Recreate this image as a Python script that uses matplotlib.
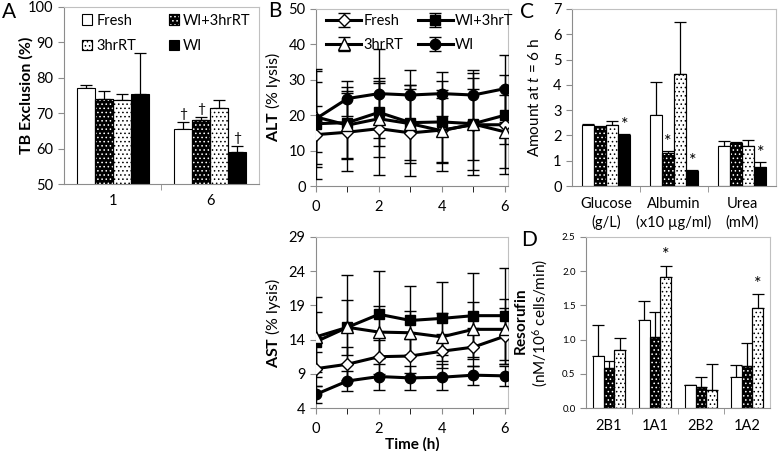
import numpy as np
import matplotlib
matplotlib.use("Agg")
import matplotlib.pyplot as plt
from matplotlib.legend_handler import HandlerTuple

plt.rcParams['font.family'] = ['Lato', 'DejaVu Sans']
plt.rcParams['mathtext.fontset'] = 'custom'
plt.rcParams['mathtext.rm'] = 'Lato'
plt.rcParams['mathtext.bf'] = 'Lato:bold'
plt.rcParams['mathtext.it'] = 'Lato:italic'
plt.rcParams['hatch.linewidth'] = 0.6

# ---- Panel A: TB exclusion
a_groups = ['1', '6']
a_fresh = [77.0, 65.5]
a_fresh_err = [1.0, 2.0]
a_wi3 = [74.0, 68.2]
a_wi3_err = [2.4, 0.7]
a_rt3 = [73.6, 71.4]
a_rt3_err = [1.8, 2.3]
a_wi = [75.4, 58.9]
a_wi_err = [11.7, 1.7]

# ---- Panel B: ALT / AST over time
hours = [0, 1, 2, 3, 4, 5, 6]
alt_fresh = [14.5, 15.2, 16.2, 15.0, 15.8, 17.3, 17.3]
alt_fresh_err = [8.2, 11.0, 13.0, 12.3, 9.0, 10.0, 14.0]
alt_wi3 = [17.6, 17.9, 20.8, 17.9, 18.1, 17.6, 20.0]
alt_wi3_err = [15.5, 10.0, 9.6, 10.5, 11.5, 13.0, 8.0]
alt_rt3 = [19.5, 17.2, 19.0, 17.6, 15.6, 17.5, 15.3]
alt_rt3_err = [10.0, 9.5, 10.8, 11.0, 11.4, 14.5, 10.3]
alt_wi = [19.0, 24.7, 26.1, 25.7, 26.1, 25.7, 27.5]
alt_wi_err = [13.5, 5.0, 12.5, 7.2, 6.2, 7.2, 9.5]

ast_fresh = [9.75, 10.4, 11.5, 11.6, 12.3, 12.9, 14.5]
ast_fresh_err = [2.5, 2.5, 2.5, 2.5, 2.5, 2.8, 4.1]
ast_wi3 = [13.7, 15.8, 17.7, 16.8, 17.1, 17.5, 17.5]
ast_wi3_err = [4.4, 7.7, 6.4, 5.1, 5.3, 6.3, 7.0]
ast_rt3 = [14.4, 15.8, 15.1, 15.0, 14.4, 15.5, 15.5]
ast_rt3_err = [5.9, 4.0, 3.8, 3.2, 3.5, 4.0, 4.5]
ast_wi = [6.0, 7.95, 8.6, 8.4, 8.5, 8.8, 8.7]
ast_wi_err = [1.2, 1.5, 1.9, 1.8, 1.9, 1.4, 1.5]

# ---- Panel C: amounts at t = 6 h
c_groups = ['Glucose\n(g/L)', 'Albumin\n(x10 \u00b5g/ml)', 'Urea\n(mM)']
c_fresh = [2.43, 2.80, 1.58]
c_fresh_err = [0.03, 1.30, 0.20]
c_wi3 = [2.35, 1.32, 1.70]
c_wi3_err = [0.03, 0.05, 0.05]
c_rt3 = [2.43, 4.43, 1.58]
c_rt3_err = [0.13, 2.05, 0.23]
c_wi = [2.03, 0.60, 0.77]
c_wi_err = [0.03, 0.03, 0.17]

# ---- Panel D: resorufin
d_groups = ['2B1', '1A1', '2B2', '1A2']
d_fresh = [0.76, 1.29, 0.34, 0.46]
d_fresh_err = [0.46, 0.27, 0.0, 0.17]
d_wi3 = [0.58, 1.04, 0.31, 0.61]
d_wi3_err = [0.10, 0.36, 0.15, 0.34]
d_rt3 = [0.85, 1.92, 0.26, 1.46]
d_rt3_err = [0.18, 0.16, 0.38, 0.20]

W, H = 778, 451
fig = plt.figure(figsize=(W / 100, H / 100), dpi=100)


def add_ax(l, t, r, b):
    return fig.add_axes([l / W, 1 - b / H, (r - l) / W, (b - t) / H])


def frame(ax, size=10.5):
    for s in ax.spines.values():
        s.set_color('#c0c0c0')
        s.set_linewidth(0.8)
    ax.spines['left'].set_color('#8c8c8c')
    ax.spines['bottom'].set_color('#8c8c8c')
    ax.tick_params(colors='#8c8c8c', labelcolor='black', labelsize=size,
                   length=4, width=0.8)


# bar styles: face, dot colour
styles = {'Fresh': ('white', None), 'WI+3hrRT': ('black', 'white'),
          '3hrRT': ('white', 'black'), 'WI': ('black', None)}


def dbar(ax, x, h, w, name, err=None):
    face, dots = styles[name]
    ax.bar(x, h, w, color=face, edgecolor='black', lw=0.8, zorder=2)
    if dots:
        ax.bar(x, h, w, color='none', edgecolor=dots, hatch='....', lw=0, zorder=3)
        ax.bar(x, h, w, color='none', edgecolor='black', lw=0.8, zorder=4)
    if err is not None:
        ax.errorbar(x, h, yerr=[np.zeros(len(err)), err], fmt='none',
                    ecolor='black', elinewidth=0.9, capsize=4, capthick=0.9, zorder=1)


def legend_handle(name):
    face, dots = styles[name]
    base = plt.Rectangle((0, 0), 1, 1, facecolor=face, edgecolor='black', lw=0.8)
    if dots:
        over = plt.Rectangle((0, 0), 1, 1, facecolor='none', edgecolor=dots,
                             hatch='....', lw=0)
        edge = plt.Rectangle((0, 0), 1, 1, facecolor='none', edgecolor='black', lw=0.8)
        return (base, over, edge)
    return base


def cat_axis(ax, labels):
    n = len(labels)
    ax.set_xlim(-0.5, n - 0.5)
    ax.set_xticks(range(n))
    ax.set_xticklabels(labels)
    ax.set_xticks(np.arange(0.5, n - 1, 1), minor=True)
    ax.tick_params(axis='x', which='major', length=0, pad=7)
    ax.tick_params(axis='x', which='minor', length=4, color='#8c8c8c', direction='out')


# ---------------- A
axA = add_ax(64, 7, 259, 184)
frame(axA)
x = np.arange(len(a_groups))
bw = 0.185
for i, (name, v, e) in enumerate([('Fresh', a_fresh, a_fresh_err),
                                  ('WI+3hrRT', a_wi3, a_wi3_err),
                                  ('3hrRT', a_rt3, a_rt3_err),
                                  ('WI', a_wi, a_wi_err)]):
    xs = x + (i - 1.5) * bw
    dbar(axA, xs, v, bw, name, e)
    if name != '3hrRT':
        axA.text(xs[1], v[1] + e[1] + 0.6, '\u2020', ha='center', va='bottom', fontsize=10)
axA.set_ylim(50, 100)
axA.set_yticks(range(50, 101, 10))
cat_axis(axA, a_groups)
axA.set_ylabel('TB Exclusion (%)', fontsize=11.5, fontweight='bold')
axA.yaxis.set_label_coords(-0.155, 0.5)
hA = [legend_handle(n) for n in ['Fresh', '3hrRT', 'WI+3hrRT', 'WI']]
axA.legend(hA, ['Fresh', '3hrRT', 'WI+3hrRT', 'WI'], ncol=2, frameon=False,
           loc='upper left', bbox_to_anchor=(0.04, 1.02), fontsize=10.5,
           handlelength=0.7, handleheight=0.7, handletextpad=0.3,
           columnspacing=2.2, labelspacing=0.8, borderpad=0.2,
           handler_map={tuple: HandlerTuple(ndivide=1, pad=0)})
fig.text(9 / W, 1 - 12 / H, 'A', fontsize=15, ha='center', va='center')


# ---------------- B
def line_panel(ax, series, ylim, yticks, legend=False):
    frame(ax)
    for vals, errs, mk, ms, face, lab in series:
        ax.errorbar(hours, vals, yerr=errs, color='black', lw=2.2, marker=mk,
                    ms=ms, mfc=face, mec='black', mew=1.0, ecolor='black',
                    elinewidth=1.0, capsize=4, capthick=1.0, label=lab, zorder=3)
    ax.set_xlim(0, 6.1)
    ax.set_xticks([0, 2, 4, 6])
    ax.set_xticks([1, 3, 5], minor=True)
    ax.tick_params(axis='x', which='both', length=4, direction='out', pad=6)
    ax.set_ylim(*ylim)
    ax.set_yticks(yticks)
    if legend:
        h, l = ax.get_legend_handles_labels()
        order = [0, 2, 1, 3]
        ax.legend([h[k] for k in order], [l[k] for k in order], ncol=2,
                  frameon=False, loc='upper left', bbox_to_anchor=(0.0, 1.03),
                  fontsize=10.5, handlelength=2.4, handletextpad=0.15,
                  columnspacing=1.0, labelspacing=0.7, borderpad=0.2)


axB = add_ax(316, 9, 508, 186)
line_panel(axB, [(alt_fresh, alt_fresh_err, 'D', 6.5, 'white', 'Fresh'),
                 (alt_wi3, alt_wi3_err, 's', 6.5, 'black', 'WI+3hrT'),
                 (alt_rt3, alt_rt3_err, '^', 9, 'white', '3hrRT'),
                 (alt_wi, alt_wi_err, 'o', 7.5, 'black', 'WI')],
           (0, 50), range(0, 51, 10), legend=True)
axB.set_ylabel(r'$\mathbf{ALT}$ (% lysis)', fontsize=11.5)
axB.yaxis.set_label_coords(-0.17, 0.5)
fig.text(275 / W, 1 - 11 / H, 'B', fontsize=15, ha='center', va='center')

axB2 = add_ax(316, 237, 508, 408)
line_panel(axB2, [(ast_fresh, ast_fresh_err, 'D', 6.5, 'white', 'Fresh'),
                  (ast_wi3, ast_wi3_err, 's', 6.5, 'black', 'WI+3hrT'),
                  (ast_rt3, ast_rt3_err, '^', 9, 'white', '3hrRT'),
                  (ast_wi, ast_wi_err, 'o', 7.5, 'black', 'WI')],
           (4, 29), range(4, 30, 5))
axB2.set_ylabel(r'$\mathbf{AST}$ (% lysis)', fontsize=11.5)
axB2.yaxis.set_label_coords(-0.17, 0.5)
axB2.set_xlabel('Time (h)', fontsize=11, fontweight='bold', labelpad=1)

# ---------------- C
axC = add_ax(572, 9, 776, 186)
frame(axC)
x = np.arange(len(c_groups))
bw = 0.18
for i, (name, v, e) in enumerate([('Fresh', c_fresh, c_fresh_err),
                                  ('WI+3hrRT', c_wi3, c_wi3_err),
                                  ('3hrRT', c_rt3, c_rt3_err),
                                  ('WI', c_wi, c_wi_err)]):
    xs = x + (i - 1.5) * bw
    dbar(axC, xs, v, bw, name, e)
    if name == 'WI':
        for k in range(len(xs)):
            axC.text(xs[k], v[k] + e[k] + 0.05, '*', ha='center', va='bottom', fontsize=13)
    if name == 'WI+3hrRT':
        axC.text(xs[1], v[1] + e[1] + 0.05, '*', ha='center', va='bottom', fontsize=13)
axC.set_ylim(0, 7)
axC.set_yticks(range(0, 8))
cat_axis(axC, c_groups)
axC.tick_params(axis='x', which='major', pad=8)
for t in axC.get_xticklabels():
    t.set_linespacing(1.35)
axC.set_ylabel(r'Amount at $\it{t}$ = 6 h', fontsize=11)
axC.yaxis.set_label_coords(-0.147, 0.5)
fig.text(527 / W, 1 - 12 / H, 'C', fontsize=15, ha='center', va='center')

# ---------------- D
axD = add_ax(586, 237, 770, 408)
frame(axD, size=7)
x = np.arange(len(d_groups))
bw = 0.23
for i, (name, v, e) in enumerate([('Fresh', d_fresh, d_fresh_err),
                                  ('WI+3hrRT', d_wi3, d_wi3_err),
                                  ('3hrRT', d_rt3, d_rt3_err)]):
    xs = x + (i - 1) * bw
    dbar(axD, xs, v, bw, name, e)
    if name == '3hrRT':
        for k in [1, 3]:
            axD.text(xs[k], v[k] + e[k] + 0.04, '*', ha='center', va='bottom', fontsize=13)
axD.set_ylim(0, 2.5)
axD.set_yticks(np.arange(0, 2.51, 0.5))
axD.yaxis.set_major_formatter(matplotlib.ticker.FormatStrFormatter('%.1f'))
cat_axis(axD, d_groups)
axD.tick_params(axis='x', which='major', labelsize=10.5, pad=8)
axD.set_ylabel('$\\mathbf{Resorufin}$\n(nM/10$^6$ cells/min)', fontsize=11, linespacing=1.1)
axD.yaxis.set_label_coords(-0.196, 0.5)
fig.text(529 / W, 1 - 240 / H, 'D', fontsize=15, ha='center', va='center')

fig.savefig('out.png', dpi=100)
